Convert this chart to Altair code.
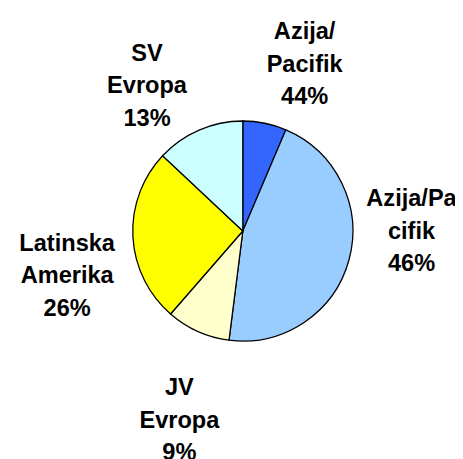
import altair as alt
import pandas as pd

# Data (slices clockwise from 12 o'clock)
categories = ["Azija/Pacifik A", "Azija/Pacifik B", "JV Evropa", "Latinska Amerika", "SV Evropa"]
values = [6.4, 45.6, 9.4, 25.6, 13.0]
labels = ["Azija/\nPacifik\n44%", "Azija/Pa\ncifik\n46%", "JV\nEvropa\n9%", "Latinska\nAmerika\n26%", "SV\nEvropa\n13%"]
colors = ["#3366FF", "#99CCFF", "#FFFFCC", "#FFFF00", "#CCFFFF"]

df = pd.DataFrame({
    "cat": categories,
    "value": values,
    "label": labels,
    "order": list(range(len(categories))),
})

CX, CY = 239, 223
R = 112
theta_scale = alt.Scale(domain=[0, 100])

base = alt.Chart(df)

pie = base.mark_arc(outerRadius=R, stroke="black", strokeWidth=1.3).encode(
    theta=alt.Theta("value:Q", stack=True, scale=theta_scale),
    order=alt.Order("order:O"),
    color=alt.Color("cat:N", scale=alt.Scale(domain=categories, range=colors), legend=None),
    x=alt.value(CX),
    y=alt.value(CY),
)

# label nudges (pixel offsets from mid-angle anchor)
nudges = [(27, 7), (-2, -46), (9, 29), (1, 37), (-26, 18)]
LINE = 33

text_layers = []
for cat, (ddx, ddy) in zip(categories, nudges):
    t = base.transform_window(
        cum="sum(value)", sort=[alt.SortField("order")]
    ).transform_calculate(
        mid="datum.cum - datum.value / 2"
    ).transform_filter(
        alt.datum.cat == cat
    ).mark_text(
        font="Liberation Sans", fontWeight="bold", fontSize=24, lineHeight=LINE,
        lineBreak="\n", align="center", baseline="middle", color="black",
        dx=ddx, dy=ddy - LINE,
    ).encode(
        theta=alt.Theta("mid:Q", scale=theta_scale),
        radius=alt.value(180),
        text="label:N",
        x=alt.value(CX),
        y=alt.value(CY),
    )
    text_layers.append(t)

chart = alt.layer(pie, *text_layers).properties(
    width=455, height=451,
    autosize=alt.AutoSizeParams(type="none"),
    padding=0,
).configure_view(stroke=None)

chart.save("out.html", embed_options={"renderer": "svg", "actions": False})
